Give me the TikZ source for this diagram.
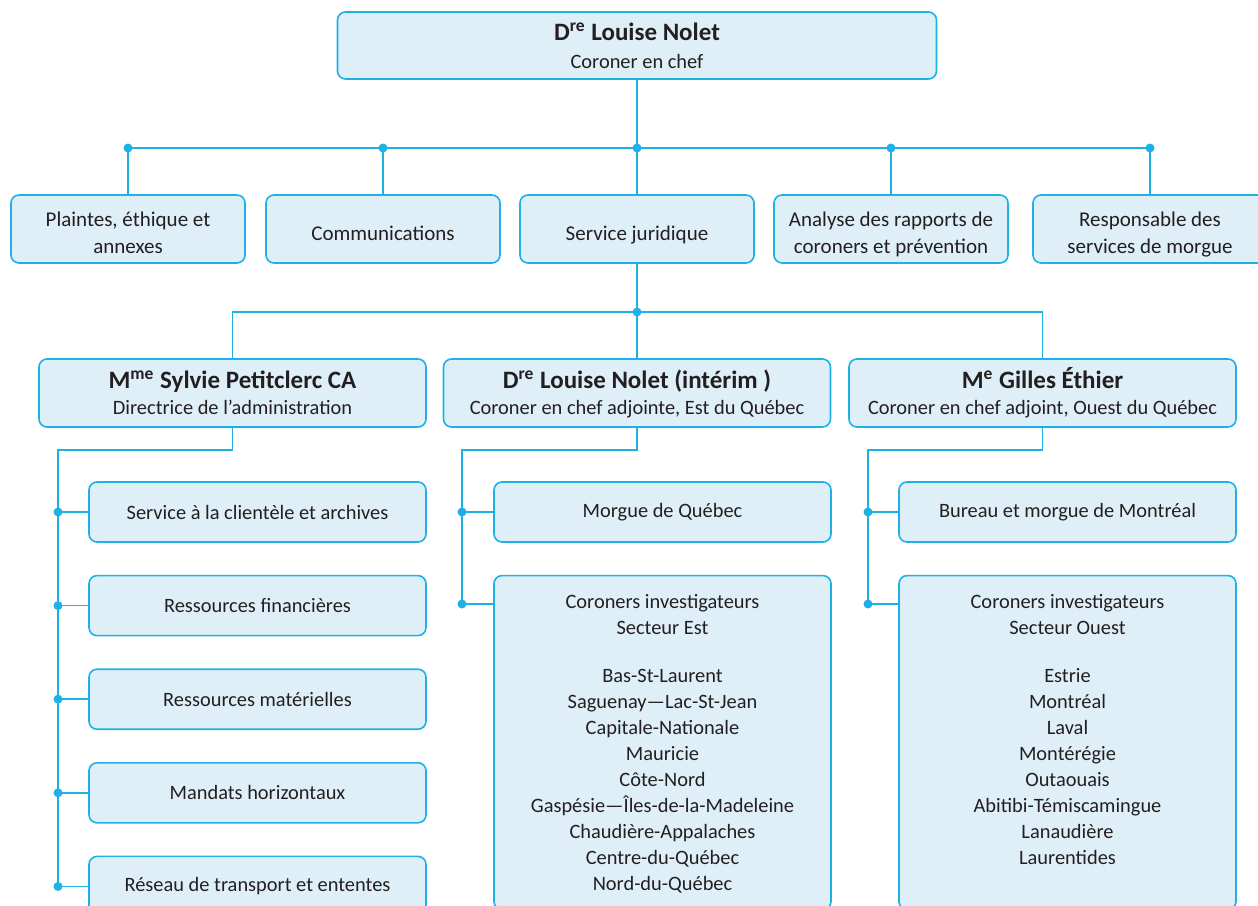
\documentclass[tikz,border=0pt]{standalone}
\usepackage{fontspec}
\setmainfont{Carlito}
\usepackage{xcolor}
\usepackage{tikz}
\usetikzlibrary{positioning}

\definecolor{lineblue}{HTML}{1DB1E6}
\definecolor{boxfill}{HTML}{DFEFF8}
\definecolor{inktext}{HTML}{231F20}

\begin{document}
\begin{tikzpicture}[
        x=0.5pt, y=-0.5pt,
        every node/.style={text=inktext, font=\fontsize{10.2}{13}\selectfont},
        box/.style={rectangle, rounded corners=4pt, draw=lineblue, line width=0.8pt, fill=boxfill, align=center, inner sep=0pt},
        lowered/.style={execute at begin node={\rule{0pt}{#1}}, execute at end node={\rule[-3pt]{0pt}{3pt}}},
        topbox/.style={box, minimum width=299.5pt, minimum height=33.5pt, lowered=26pt},
        unitbox/.style={box, minimum width=117pt, minimum height=34pt, font=\fontsize{10.5}{13.5}\selectfont, lowered=14pt},
        deputybox/.style={box, minimum width=193.5pt, minimum height=34pt, lowered=24.5pt},
        subbox/.style={box, minimum width=168.5pt, minimum height=30pt},
        tallbox/.style={box},
        link/.style={draw=lineblue, line width=0.8pt},
        dot/.style={circle, fill=lineblue, inner sep=0pt, minimum size=4.5pt}
    ]
        \useasboundingbox (0,0) rectangle (1258,905);
        \clip (0,0) rectangle (1258,905);

        % ===== Coroner en chef =====
        \node (chief) [topbox] at (637,45.5) {{\fontsize{12.5}{15}\selectfont\bfseries D\textsuperscript{re} Louise Nolet}\\[1pt]Coroner en chef};

        % ===== Unites rattachees =====
        \node (plaintes) [unitbox, lowered=27.5pt] at (128,229) {Plaintes, éthique et\\annexes};
        \node (comm) [unitbox] at (383,229) {Communications};
        \node (juridique) [unitbox] at (637,229) {Service juridique};
        \node (analyse) [unitbox, lowered=27.5pt] at (891,229) {Analyse des rapports de\\coroners et prévention};
        \node (morgues) [unitbox, lowered=27.5pt] at (1150,229) {Responsable des\\services de morgue};

        % ===== Directions =====
        \node (admin) [deputybox] at (232.5,393) {{\fontsize{12.5}{15}\selectfont\bfseries M\textsuperscript{me} Sylvie Petitclerc CA}\\Directrice de l’administration};
        \node (est) [deputybox] at (637,393) {{\fontsize{12.5}{15}\selectfont\bfseries D\textsuperscript{re} Louise Nolet (intérim )}\\Coroner en chef adjointe, Est du Québec};
        \node (ouest) [deputybox] at (1042.5,393) {{\fontsize{12.5}{15}\selectfont\bfseries M\textsuperscript{e} Gilles Éthier}\\Coroner en chef adjoint, Ouest du Québec};

        % ===== Administration =====
        \node (clientele) [subbox] at (257.5,512) {Service à la clientèle et archives};
        \node (finances) [subbox, below=16pt of clientele] {Ressources financières};
        \node (materiel) [subbox, below=16pt of finances] {Ressources matérielles};
        \node (mandats) [subbox, below=16pt of materiel] {Mandats horizontaux};
        \node (reseau) [subbox, below=16pt of mandats] {Réseau de transport et ententes};

        % ===== Est du Quebec =====
        \node (morgueQc) [subbox] at (662.5,512) {Morgue de Québec};
        \node (estRegions) [tallbox, below=16pt of morgueQc] {\parbox[t][167pt][t]{168.5pt}{\centering
            \rule{0pt}{16.5pt}Coroners investigateurs\\Secteur Est\\[11pt]
            Bas-St-Laurent\\Saguenay—Lac-St-Jean\\Capitale-Nationale\\Mauricie\\Côte-Nord\\
            Gaspésie—Îles-de-la-Madeleine\\Chaudière-Appalaches\\Centre-du-Québec\\Nord-du-Québec}};

        % ===== Ouest du Quebec =====
        \node (morgueMtl) [subbox] at (1067.5,512) {Bureau et morgue de Montréal};
        \node (ouestRegions) [tallbox, below=16pt of morgueMtl] {\parbox[t][167pt][t]{168.5pt}{\centering
            \rule{0pt}{16.5pt}Coroners investigateurs\\Secteur Ouest\\[11pt]
            Estrie\\Montréal\\Laval\\Montérégie\\Outaouais\\Abitibi-Témiscamingue\\Lanaudière\\Laurentides}};

        % ===== Points de jonction =====
        \coordinate (busTop) at (637,148);
        \coordinate (busMid) at (637,312);
        \coordinate (adminRail) at (58,450);
        \coordinate (estRail) at (462,450);
        \coordinate (estJoin) at (462,604);
        \coordinate (ouestRail) at (868,450);
        \coordinate (ouestJoin) at (868,604);

        % ===== Liens =====
        % premier niveau
        \draw [link] (chief.south) -- (busTop);
        \draw [link] (plaintes.north) |- (busTop) -| (morgues.north);
        \draw [link] (comm.north) -- (comm.north |- busTop);
        \draw [link] (juridique.north) -- (busTop);
        \draw [link] (analyse.north) -- (analyse.north |- busTop);
        \foreach \n in {plaintes, comm, juridique, analyse, morgues}
            \node [dot] at (\n.north |- busTop) {};

        % directions
        \draw [link] (juridique.south) -- (busMid);
        \draw [link] (admin.north) |- (busMid) -| (ouest.north);
        \draw [link] (est.north) -- (busMid);
        \node [dot] at (busMid) {};

        % administration
        \draw [link] (admin.south) |- (adminRail) |- (reseau.west);
        \foreach \n in {clientele, finances, materiel, mandats}
            \draw [link] (\n.west) -- (\n.west -| adminRail);
        \foreach \n in {clientele, finances, materiel, mandats, reseau}
            \node [dot] at (\n.west -| adminRail) {};

        % est
        \draw [link] (est.south) |- (estRail) -- (estJoin) -- (estJoin -| estRegions.west);
        \draw [link] (morgueQc.west) -- (morgueQc.west -| estRail);
        \node [dot] at (morgueQc.west -| estRail) {};
        \node [dot] at (estJoin) {};

        % ouest
        \draw [link] (ouest.south) |- (ouestRail) -- (ouestJoin) -- (ouestJoin -| ouestRegions.west);
        \draw [link] (morgueMtl.west) -- (morgueMtl.west -| ouestRail);
        \node [dot] at (morgueMtl.west -| ouestRail) {};
        \node [dot] at (ouestJoin) {};

    \end{tikzpicture}
\end{document}
